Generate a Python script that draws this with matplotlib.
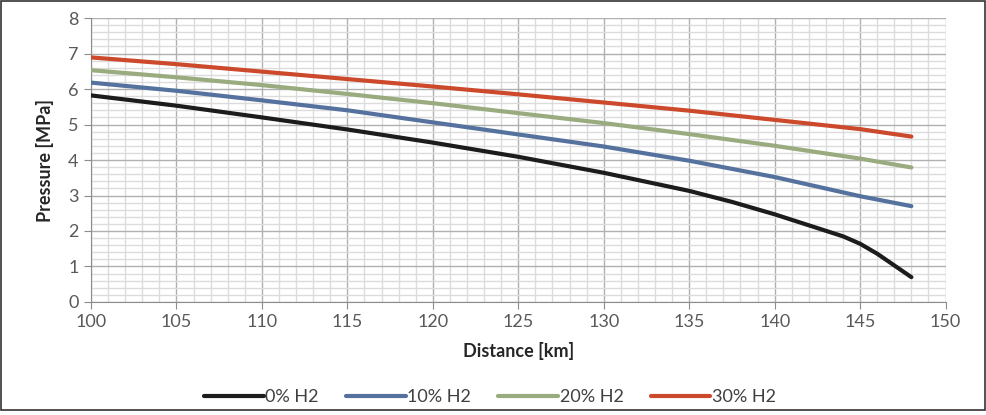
import matplotlib.pyplot as plt
from matplotlib.patches import Rectangle
from matplotlib.ticker import MultipleLocator

plt.rcParams['font.family'] = ['Lato', 'DejaVu Sans']

# valeurs
dist = [100, 105, 110, 115, 120, 125, 130, 135, 140, 145, 148]
p_h2_0 = [5.82, 5.53, 5.20, 4.86, 4.49, 4.09, 3.64, 3.13, 2.47, 1.64, 0.70]
p_h2_10 = [6.18, 5.95, 5.68, 5.40, 5.06, 4.72, 4.38, 3.98, 3.52, 2.98, 2.70]
p_h2_20 = [6.53, 6.33, 6.11, 5.86, 5.60, 5.32, 5.04, 4.73, 4.40, 4.04, 3.79]
p_h2_30 = [6.89, 6.70, 6.49, 6.28, 6.07, 5.85, 5.62, 5.39, 5.13, 4.87, 4.66]

# points en plus pour la fin de la courbe 0%
dist_fin = [137.5, 142, 144, 146, 147]
p_fin = [2.82, 2.16, 1.85, 1.36, 1.03]

series = ['0% H2', '10% H2', '20% H2', '30% H2']
couleurs = ['#1c1c1c', '#55729f', '#9aab7f', '#cc4a2b']

fig = plt.figure(figsize=(9.86, 4.15), dpi=100)
ax = fig.add_axes([0.0923, 0.2723, 0.8667, 0.6843])

d0 = sorted(dist + dist_fin)
p0 = [dict(zip(dist + dist_fin, p_h2_0 + p_fin))[d] for d in d0]
donnees = [(d0, p0), (dist, p_h2_10), (dist, p_h2_20), (dist, p_h2_30)]

for (x, y), nom, c in zip(donnees, series, couleurs):
    ax.plot(x, y, color=c, linewidth=3, label=nom, solid_capstyle='round',
            solid_joinstyle='round', zorder=3)

ax.set_xlim(100, 150)
ax.set_ylim(0, 8)
ax.xaxis.set_major_locator(MultipleLocator(5))
ax.xaxis.set_minor_locator(MultipleLocator(1))
ax.yaxis.set_major_locator(MultipleLocator(1))
ax.yaxis.set_minor_locator(MultipleLocator(0.2))
ax.grid(which='major', color='#b0b0b0', linewidth=1.0)
ax.grid(which='minor', color='#dcdcdc', linewidth=1.0)
ax.set_axisbelow(True)

for s in ['top', 'right']:
    ax.spines[s].set_visible(False)
for s in ['left', 'bottom']:
    ax.spines[s].set_color('#8c8c8c')
ax.tick_params(which='major', length=5, color='#8c8c8c', labelsize=13, labelcolor='#595959', pad=4)
ax.tick_params(which='minor', length=0)

ax.set_xlabel('Distance [km]', fontsize=13, fontweight='bold', color='#262626', labelpad=8)
ax.set_ylabel('Pressure [MPa]', fontsize=13, fontweight='bold', color='#262626', labelpad=10)

fig.legend(loc='center', bbox_to_anchor=(0.497, 0.043), ncol=4, frameon=False,
           fontsize=13, handlelength=3.3, handletextpad=0.1, columnspacing=1.5,
           labelcolor='#404040')

fig.patches.append(Rectangle((0.001, 0.012), 0.998, 0.986, transform=fig.transFigure,
                             fill=False, edgecolor='#333333', linewidth=1.2))

fig.savefig('out.png', dpi=100)
